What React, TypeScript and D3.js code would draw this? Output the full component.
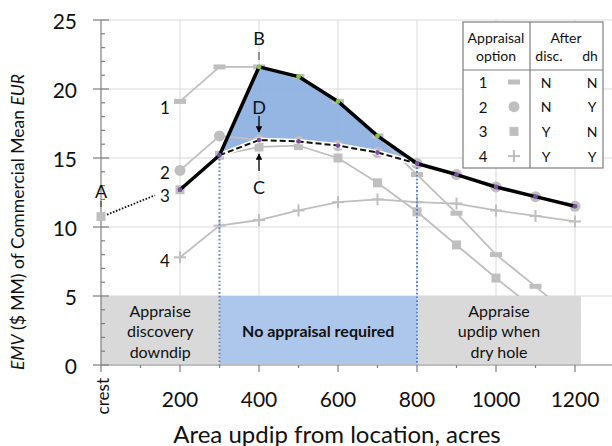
import React from "react";
import * as d3 from "d3";

// Area updip (acres) at which each option was evaluated
const areas = [200, 300, 400, 500, 600, 700, 800, 900, 1000, 1100, 1200];

// EMV ($ MM) per appraisal option
const option1 = [19.1, 21.6, 21.6, 20.9, 19.1, 16.6, 13.8, 11.0, 8.0, 5.7, 3.3];
const option2 = [14.1, 16.6, 16.3, 16.2, 15.9, 15.4, 14.6, 13.8, 12.9, 12.2, 11.5];
const option3 = [12.7, 15.2, 15.8, 15.9, 15.0, 13.2, 11.1, 8.7, 6.3, 4.0, 1.7];
const option4 = [7.8, 10.1, 10.5, 11.2, 11.8, 12.0, 11.8, 11.7, 11.2, 10.8, 10.4];

// Best decision path and the "no appraisal" path between 300 and 800 acres
const bestPath = [12.7, 15.2, 21.6, 20.9, 19.1, 16.6, 14.6, 13.8, 12.9, 12.2, 11.5];
const noAppraisalAreas = [300, 400, 500, 600, 700, 800];
const noAppraisalEmv = [15.2, 16.3, 16.2, 15.9, 15.4, 14.6];

// Crest point A
const crestEmv = 10.75;

const xTicks = [200, 400, 600, 800, 1000, 1200];
const yTicks = [0, 5, 10, 15, 20, 25];

const legendRows = [
  { id: "1", marker: "dash", disc: "N", dh: "N" },
  { id: "2", marker: "circle", disc: "N", dh: "Y" },
  { id: "3", marker: "square", disc: "Y", dh: "N" },
  { id: "4", marker: "plus", disc: "Y", dh: "Y" },
];

const FONT = "Lato, 'Open Sans', sans-serif";
const GRAY = "#bfbfbf";
const PURPLE = "#7b4fa0";
const GREEN = "#86c440";

function Marker({ kind, cx, cy }: { kind: string; cx: number; cy: number }) {
  if (kind === "dash") return <rect x={cx - 6} y={cy - 2.5} width={12} height={5} fill={GRAY} />;
  if (kind === "circle") return <circle cx={cx} cy={cy} r={5.5} fill={GRAY} />;
  if (kind === "square") return <rect x={cx - 4.5} y={cy - 4.5} width={9} height={9} fill={GRAY} />;
  return (
    <g stroke={GRAY} strokeWidth={2}>
      <line x1={cx - 6} x2={cx + 6} y1={cy} y2={cy} />
      <line x1={cx} x2={cx} y1={cy - 6} y2={cy + 6} />
    </g>
  );
}

export default function App() {
  const W = 612;
  const H = 446;
  const x = d3.scaleLinear().domain([0, 1300]).range([101, 614.5]);
  const y = d3.scaleLinear().domain([0, 25]).range([365, 20]);

  const line = d3
    .line<[number, number]>()
    .x((d) => x(d[0]))
    .y((d) => y(d[1]));

  const pts = (vals: number[], xs = areas) => vals.map((v, i) => [xs[i], v] as [number, number]);

  const series = [
    { vals: option1, marker: "dash" },
    { vals: option2, marker: "circle" },
    { vals: option3, marker: "square" },
    { vals: option4, marker: "plus" },
  ];

  // Shaded gain region: best path above, no-appraisal path below (300..800)
  const topPart = areas
    .map((a, i) => [a, bestPath[i]] as [number, number])
    .filter((d) => d[0] >= 300 && d[0] <= 800);
  const bottomPart = pts(noAppraisalEmv, noAppraisalAreas).slice().reverse();
  const areaPath = line([...topPart, ...bottomPart]) + "Z";

  const minorY = d3.range(0, 26);
  const minorX = d3.range(0, 1300, 100);

  const boxes = [
    { x0: 0, x1: 300, fill: "#d9d9d9", lines: ["Appraise", "discovery", "downdip"], bold: false },
    { x0: 300, x1: 800, fill: "#adc6eb", lines: ["No appraisal required"], bold: true },
    { x0: 800, x1: 1215, fill: "#d9d9d9", lines: ["Appraise", "updip when", "dry hole"], bold: false },
  ];

  // Legend table geometry
  const tL = 463, tR = 603, tT = 22, tB = 168, tMid = 530, tHead = 70;

  return (
    <svg width={W} height={H} style={{ position: "absolute", left: 0, top: 0 }} fontFamily={FONT}>
      <rect width={W} height={H} fill="#fff" />
      <defs>
        <marker id="arrow" viewBox="0 0 10 10" refX="9" refY="5" markerWidth="5" markerHeight="5" orient="auto">
          <path d="M0,0 L10,5 L0,10 Z" fill="#000" />
        </marker>
      </defs>

      {/* grid */}
      <g stroke="#d9d9d9" strokeWidth={1}>
        {yTicks.slice(1).map((t) => (
          <line key={"gy" + t} x1={x(0)} x2={W} y1={y(t)} y2={y(t)} />
        ))}
        {xTicks.map((t) => (
          <line key={"gx" + t} x1={x(t)} x2={x(t)} y1={y(0)} y2={y(25)} />
        ))}
      </g>

      {/* gain region */}
      <path d={areaPath} fill="#8cafe0" fillOpacity={0.92} />

      {/* option series */}
      {series.map((s, si) => (
        <g key={"s" + si}>
          <path d={line(pts(s.vals)) || ""} fill="none" stroke={GRAY} strokeWidth={1.8} />
          {pts(s.vals).map((d, i) => (
            <Marker key={i} kind={s.marker} cx={x(d[0])} cy={y(d[1])} />
          ))}
        </g>
      ))}

      {/* decision boxes */}
      {boxes.map((b, i) => {
        const cx = (x(b.x0) + x(b.x1)) / 2;
        const lh = 20.5;
        const cy = (y(0) + y(5)) / 2;
        const startY = cy - ((b.lines.length - 1) * lh) / 2;
        return (
          <g key={"b" + i}>
            <rect x={x(b.x0)} y={y(5)} width={x(b.x1) - x(b.x0)} height={y(0) - y(5) - 1} fill={b.fill} />
            {b.lines.map((t, j) => (
              <text
                key={j}
                x={cx}
                y={startY + j * lh}
                textAnchor="middle"
                dominantBaseline="central"
                fontSize={16}
                fontWeight={b.bold ? 700 : 400}
                fill="#111"
              >
                {t}
              </text>
            ))}
          </g>
        );
      })}

      {/* boundaries of the no-appraisal range */}
      {[300, 800].map((a) => {
        const v = bestPath[areas.indexOf(a)];
        return (
          <line
            key={"v" + a}
            x1={x(a)}
            x2={x(a)}
            y1={y(v)}
            y2={y(0)}
            stroke="#5b87c5"
            strokeWidth={2}
            strokeDasharray="1.6,2.2"
          />
        );
      })}

      {/* axes */}
      <g stroke="#7f7f7f" strokeWidth={1.2}>
        <line x1={x(0)} x2={W} y1={y(0)} y2={y(0)} />
        <line x1={x(0)} x2={x(0)} y1={y(0)} y2={y(25)} />
        {minorY.map((t) =>
          t % 5 === 0 ? (
            <line key={"ty" + t} x1={x(0) - 8} x2={x(0) + 8} y1={y(t)} y2={y(t)} />
          ) : (
            <line key={"ty" + t} x1={x(0)} x2={x(0) + 4} y1={y(t)} y2={y(t)} />
          )
        )}
        {minorX.map((t) => (
          <line key={"tx" + t} x1={x(t)} x2={x(t)} y1={y(0)} y2={y(0) + (t % 200 === 0 ? 7 : 3)} />
        ))}
      </g>

      {yTicks.map((t) => (
        <text key={"ly" + t} x={77} y={y(t)} textAnchor="end" dominantBaseline="central" fontSize={21} fill="#111">
          {t}
        </text>
      ))}
      {xTicks.map((t) => (
        <text key={"lx" + t} x={x(t)} y={398} textAnchor="middle" dominantBaseline="central" fontSize={21} fill="#111">
          {t}
        </text>
      ))}
      <text
        transform={`translate(${x(0) + 1},378) rotate(-90)`}
        textAnchor="end"
        dominantBaseline="central"
        fontSize={17}
        fill="#111"
      >
        crest
      </text>
      <text x={337} y={433} textAnchor="middle" dominantBaseline="central" fontSize={24} fill="#111">
        Area updip from location, acres
      </text>
      <text
        transform="translate(17,222) rotate(-90)"
        textAnchor="middle"
        dominantBaseline="central"
        fontSize={17.5}
        fill="#111"
      >
        <tspan fontStyle="italic">EMV</tspan> ($ MM) of Commercial Mean <tspan fontStyle="italic">EUR</tspan>
      </text>

      {/* no-appraisal path */}
      <path d={line(pts(noAppraisalEmv, noAppraisalAreas)) || ""} fill="none" stroke="#fff" strokeWidth={5} />
      <path
        d={line(pts(noAppraisalEmv, noAppraisalAreas)) || ""}
        fill="none"
        stroke="#111"
        strokeWidth={2}
        strokeDasharray="6,3"
      />

      {/* best decision path */}
      <path d={line(pts(bestPath)) || ""} fill="none" stroke="#000" strokeWidth={3.5} strokeLinejoin="round" />
      {pts(bestPath).map((d, i) => (
        <circle
          key={"bp" + i}
          cx={x(d[0])}
          cy={y(d[1])}
          r={2.4}
          fill={d[0] >= 400 && d[0] <= 700 ? GREEN : PURPLE}
        />
      ))}
      {pts(noAppraisalEmv, noAppraisalAreas)
        .filter((d) => d[0] >= 400 && d[0] <= 700)
        .map((d, i) => (
          <circle key={"np" + i} cx={x(d[0])} cy={y(d[1])} r={2.4} fill={PURPLE} />
        ))}

      {/* crest point A */}
      <rect x={x(0) - 4.5} y={y(crestEmv) - 4.5} width={9} height={9} fill={GRAY} />
      <line
        x1={x(0) + 6}
        y1={y(crestEmv) - 2}
        x2={155}
        y2={y(12.3)}
        stroke="#111"
        strokeWidth={1.8}
        strokeDasharray="1.6,1.6"
      />
      <text x={x(0)} y={191} textAnchor="middle" dominantBaseline="central" fontSize={18} fill="#111">
        A
      </text>
      <line x1={x(0)} x2={x(0)} y1={201} y2={207} stroke="#333" strokeWidth={1} />

      {/* series labels */}
      {[
        ["1", 107],
        ["2", 172],
        ["3", 195],
        ["4", 260],
      ].map(([t, yy]) => (
        <text key={"sl" + t} x={165} y={yy as number} textAnchor="middle" dominantBaseline="central" fontSize={17} fill="#111">
          {t}
        </text>
      ))}

      {/* B, C, D annotations */}
      <text x={x(400)} y={38} textAnchor="middle" dominantBaseline="central" fontSize={18} fill="#111">
        B
      </text>
      <line x1={x(400)} x2={x(400)} y1={52} y2={60} stroke="#333" strokeWidth={1} />
      <text x={x(400)} y={107} textAnchor="middle" dominantBaseline="central" fontSize={18} fill="#111">
        D
      </text>
      <line x1={x(400)} x2={x(400)} y1={116} y2={132} stroke="#000" strokeWidth={1.3} markerEnd="url(#arrow)" />
      <text x={x(400)} y={187} textAnchor="middle" dominantBaseline="central" fontSize={18} fill="#111">
        C
      </text>
      <line x1={x(400)} x2={x(400)} y1={171} y2={154} stroke="#000" strokeWidth={1.3} markerEnd="url(#arrow)" />

      {/* legend table */}
      <g>
        <rect x={tL} y={tT} width={tR - tL} height={tB - tT} fill="#fff" stroke="#7f7f7f" strokeWidth={1.2} />
        <line x1={tMid} x2={tMid} y1={tT} y2={tB} stroke="#7f7f7f" strokeWidth={1.2} />
        <line x1={tL} x2={tR} y1={tHead} y2={tHead} stroke="#7f7f7f" strokeWidth={1.2} />
        <g fontSize={14} fill="#111" textAnchor="middle" dominantBaseline="central">
          <text x={496} y={37}>Appraisal</text>
          <text x={496} y={55}>option</text>
          <text x={566} y={37}>After</text>
          <text x={549} y={55}>disc.</text>
          <text x={590} y={55}>dh</text>
        </g>
        {legendRows.map((r, i) => {
          const ry = 82 + i * 24.7;
          return (
            <g key={"lr" + r.id}>
              <text x={483} y={ry} fontSize={15} textAnchor="middle" dominantBaseline="central" fill="#111">
                {r.id}
              </text>
              <Marker kind={r.marker} cx={514} cy={ry} />
              <text x={546} y={ry} fontSize={14} textAnchor="middle" dominantBaseline="central" fill="#111">
                {r.disc}
              </text>
              <text x={592} y={ry} fontSize={14} textAnchor="middle" dominantBaseline="central" fill="#111">
                {r.dh}
              </text>
            </g>
          );
        })}
      </g>
    </svg>
  );
}
